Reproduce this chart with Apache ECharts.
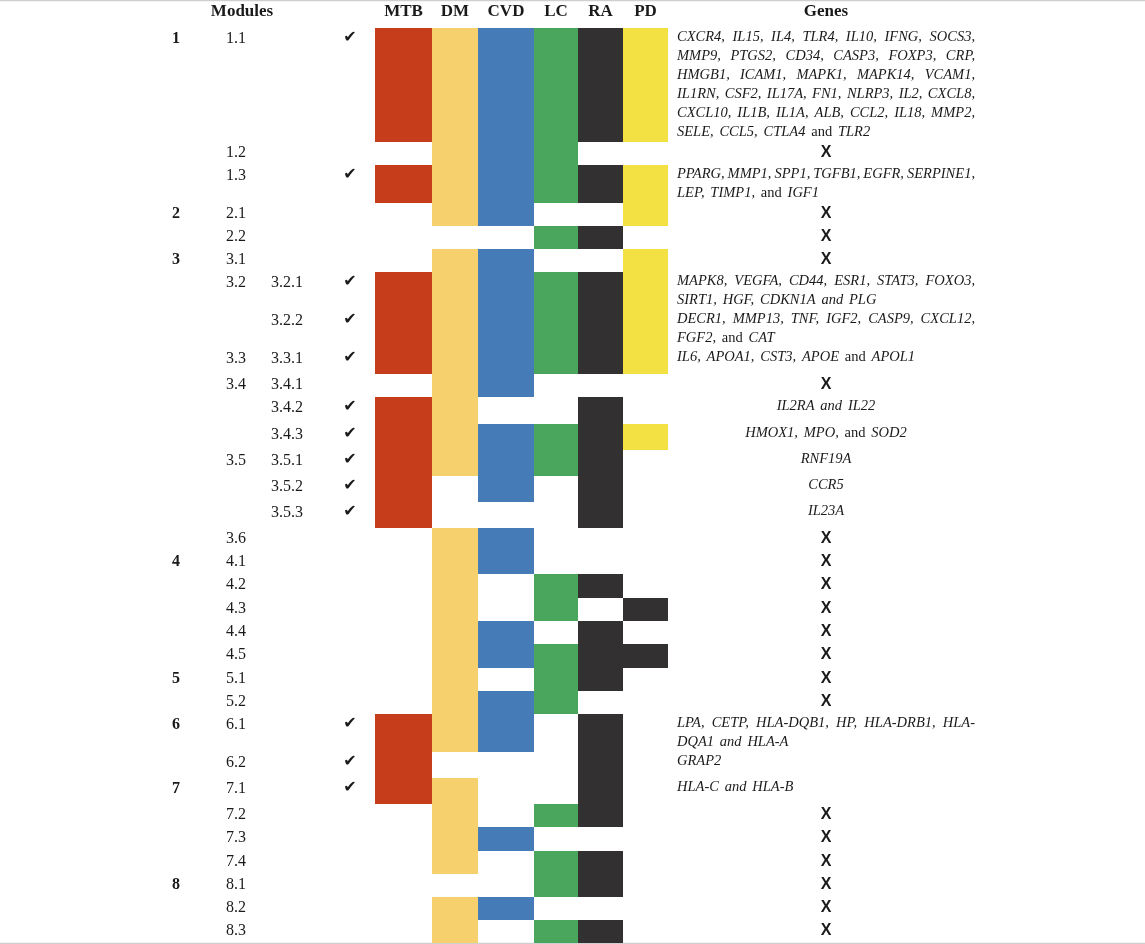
<!DOCTYPE html>
<html>
<head>
<meta charset="utf-8">
<title>Modules</title>
<script src="https://cdn.jsdelivr.net/npm/echarts@6/dist/echarts.min.js"></script>
<style>
  html, body { margin: 0; padding: 0; background: #fff; }
  #main { width: 1145px; height: 944px; }
</style>
</head>
<body>
<div id="main"></div>
<script>
// 行：模块编号
const rowIds = ['1.1', '1.2', '1.3', '2.1', '2.2', '3.1', '3.2.1', '3.2.2', '3.3.1', '3.4.1', '3.4.2', '3.4.3',
  '3.5.1', '3.5.2', '3.5.3', '3.6', '4.1', '4.2', '4.3', '4.4', '4.5', '5.1', '5.2', '6.1', '6.2',
  '7.1', '7.2', '7.3', '7.4', '8.1', '8.2', '8.3']
const diseases = ['MTB', 'DM', 'CVD', 'LC', 'RA', 'PD']

// 每个疾病在各行是否出现 (PD 中 2 = 图中以深色块标出)
const mtb = [1, 0, 1, 0, 0, 0, 1, 1, 1, 0, 1, 1, 1, 1, 1, 0, 0, 0, 0, 0, 0, 0, 0, 1, 1, 1, 0, 0, 0, 0, 0, 0]
const dm  = [1, 1, 1, 1, 0, 1, 1, 1, 1, 1, 1, 1, 1, 0, 0, 1, 1, 1, 1, 1, 1, 1, 1, 1, 0, 1, 1, 1, 1, 0, 1, 1]
const cvd = [1, 1, 1, 1, 0, 1, 1, 1, 1, 1, 0, 1, 1, 1, 0, 1, 1, 0, 0, 1, 1, 0, 1, 1, 0, 0, 0, 1, 0, 0, 1, 0]
const lc  = [1, 1, 1, 0, 1, 0, 1, 1, 1, 0, 0, 1, 1, 0, 0, 0, 0, 1, 1, 0, 1, 1, 1, 0, 0, 0, 1, 0, 1, 1, 0, 1]
const ra  = [1, 0, 1, 0, 1, 0, 1, 1, 1, 0, 1, 1, 1, 1, 1, 0, 0, 1, 0, 1, 1, 1, 0, 1, 1, 1, 1, 0, 1, 1, 0, 1]
const pd  = [1, 0, 1, 1, 0, 1, 1, 1, 1, 0, 0, 1, 0, 0, 0, 0, 0, 0, 2, 0, 2, 0, 0, 0, 0, 0, 0, 0, 0, 0, 0, 0]

// 基因 ('' = X)，{r|...} 为正体
const genes = [
  'CXCR4, IL15, IL4, TLR4, IL10, IFNG, SOCS3,\nMMP9, PTGS2, CD34, CASP3, FOXP3, CRP,\nHMGB1, ICAM1, MAPK1, MAPK14, VCAM1,\nIL1RN, CSF2, IL17A, FN1, NLRP3, IL2, CXCL8,\nCXCL10, IL1B, IL1A, ALB, CCL2, IL18, MMP2,\nSELE, CCL5, CTLA4 {r|and} TLR2',
  '',
  'PPARG, MMP1, SPP1, TGFB1, EGFR, SERPINE1,\nLEP, TIMP1, {r|and} IGF1',
  '', '', '',
  'MAPK8, VEGFA, CD44, ESR1, STAT3, FOXO3,\nSIRT1, HGF, CDKN1A and PLG',
  'DECR1, MMP13, TNF, IGF2, CASP9, CXCL12,\nFGF2, {r|and} CAT',
  'IL6, APOA1, CST3, APOE {r|and} APOL1',
  '',
  'IL2RA and IL22',
  'HMOX1, MPO, {r|and} SOD2',
  'RNF19A',
  'CCR5',
  'IL23A',
  '', '', '', '', '', '', '', '',
  'LPA, CETP, HLA-DQB1, HP, HLA-DRB1, HLA-\nDQA1 and HLA-A',
  'GRAP2',
  'HLA-C and HLA-B',
  '', '', '', '', '', ''
]

// 布局
const colWidths = [57, 46, 56, 44, 45, 45]
const rowHeights = [114, 23, 38, 23, 23, 23, 38, 38, 26, 23, 27, 26, 26, 26, 26, 23, 23, 24, 23, 23, 24, 23, 23,
  38, 26, 26, 23, 24, 23, 23, 23, 23]
const centeredGenes = ['3.4.2', '3.4.3', '3.5.1', '3.5.2', '3.5.3']
const colors = ['#C63D1B', '#F5D06D', '#457BB6', '#4AA55D', '#323031', '#F3E042']
const darkCell = '#323031'
const ink = '#1a1a1a'

const colEdges = [0]
colWidths.forEach(w => colEdges.push(colEdges[colEdges.length - 1] + w))
const rowEdges = [0]
rowHeights.forEach(h => rowEdges.push(rowEdges[rowEdges.length - 1] + h))

// x 方向文字位置 (相对彩色列左边)
const TX = { mod: -199, sub: -149, leaf: -104, check: -25, modules: -133, genesL: 302, genesR: 600 }
const GENE_IT = 'italic 14.5px "Liberation Serif"'
const GENE_RO = '14.5px "Liberation Serif"'
const LABEL = '16px "Liberation Serif"'
const LABEL_B = 'bold 16px "Liberation Serif"'
const HEAD = 'bold 17px "Liberation Serif"'

const flags = [mtb, dm, cvd, lc, ra, pd]
const cells = []
flags.forEach((arr, c) => arr.forEach((f, r) => { if (f) cells.push([c, r, f]) }))

// 模块标签
const seen = {}
const labels = rowIds.map(id => {
  const p = id.split('.')
  const mod = p[0]
  const sub = p[0] + '.' + p[1]
  const l = { mod: '', sub: '', leaf: p.length > 2 ? id : '' }
  if (!seen[mod]) { seen[mod] = 1; l.mod = mod }
  if (!seen[sub]) { seen[sub] = 1; l.sub = sub }
  return l
})

const mctx = document.createElement('canvas').getContext('2d')
function textW(s, font) {
  mctx.font = font
  return mctx.measureText(s).width
}

function txt(x, y, text, font, align) {
  return {
    type: 'text',
    style: { x, y, text, font, fill: ink, align: align || 'left', verticalAlign: 'middle' }
  }
}

// 两端对齐的一行基因
function geneLine(line, x0, x1, y, justify, center) {
  const toks = line.split(' ').map(t => {
    const m = t.match(/^\{r\|(.*)\}$/)
    return m ? { t: m[1], font: GENE_RO } : { t, font: GENE_IT }
  })
  const ws = toks.map(k => textW(k.t, k.font))
  const total = ws.reduce((a, b) => a + b, 0)
  let gap = textW(' ', GENE_IT) * 1.6
  if (justify && toks.length > 1) gap = (x1 - x0 - total) / (toks.length - 1)
  let x = center ? (x0 + x1) / 2 - (total + gap * (toks.length - 1)) / 2 : x0
  return toks.map((k, i) => {
    const el = txt(x, y, k.t, k.font)
    x += ws[i] + gap
    return el
  })
}

const chart = echarts.init(document.getElementById('main'))
chart.setOption({
  animation: false,
  backgroundColor: '#fff',
  grid: { left: 375, top: 28, width: colEdges[colEdges.length - 1], height: rowEdges[rowEdges.length - 1] },
  xAxis: { type: 'value', min: 0, max: colEdges[colEdges.length - 1], show: false },
  yAxis: { type: 'value', min: 0, max: rowEdges[rowEdges.length - 1], inverse: true, show: false },
  graphic: [
    { type: 'line', shape: { x1: 0, y1: 0.5, x2: 1145, y2: 0.5 }, style: { stroke: '#cfcfcf', lineWidth: 1.5 } },
    { type: 'line', shape: { x1: 0, y1: 943.5, x2: 1145, y2: 943.5 }, style: { stroke: '#cfcfcf', lineWidth: 1.5 } }
  ],
  series: [{
    type: 'custom',
    silent: true,
    data: cells,
    renderItem(params, api) {
      const c = api.value(0), r = api.value(1), f = api.value(2)
      const p0 = api.coord([colEdges[c], rowEdges[r]])
      const p1 = api.coord([colEdges[c + 1], rowEdges[r + 1]])
      return {
        type: 'rect',
        shape: { x: p0[0], y: p0[1], width: p1[0] - p0[0], height: p1[1] - p0[1] },
        style: { fill: f === 2 ? darkCell : colors[c] }
      }
    }
  }, {
    // 表头
    type: 'custom',
    silent: true,
    data: [[0]],
    renderItem(params, api) {
      const y = api.coord([0, -16])[1]
      const els = [txt(api.coord([TX.modules, 0])[0], y, 'Modules', HEAD, 'center')]
      diseases.forEach((d, c) => {
        els.push(txt(api.coord([(colEdges[c] + colEdges[c + 1]) / 2, 0])[0], y, d, HEAD, 'center'))
      })
      els.push(txt(api.coord([(TX.genesL + TX.genesR) / 2, 0])[0], y, 'Genes', HEAD, 'center'))
      return { type: 'group', children: els }
    }
  }, {
    // 行文字
    type: 'custom',
    silent: true,
    data: rowIds.map((id, i) => [i]),
    renderItem(params, api) {
      const r = api.value(0)
      const top = rowEdges[r]
      const yl = api.coord([0, top + 10.5])[1]
      const X = v => api.coord([v, 0])[0]
      const l = labels[r]
      const els = []
      if (l.mod) els.push(txt(X(TX.mod), yl, l.mod, LABEL_B, 'center'))
      if (l.sub) els.push(txt(X(TX.sub), yl, l.sub, LABEL))
      if (l.leaf) els.push(txt(X(TX.leaf), yl, l.leaf, LABEL))
      if (mtb[r]) els.push(txt(X(TX.check), api.coord([0, top + 9.5])[1], '✔', '16px "DejaVu Sans"', 'center'))
      const g = genes[r]
      if (!g) {
        els.push(txt(X((TX.genesL + TX.genesR) / 2), api.coord([0, top + 11])[1], 'X', 'bold 16px "Liberation Sans"', 'center'))
      } else {
        const lines = g.split('\n')
        const center = centeredGenes.indexOf(rowIds[r]) >= 0
        lines.forEach((line, k) => {
          const y = api.coord([0, top + 9.5 + k * 19])[1]
          geneLine(line, X(TX.genesL), X(TX.genesR), y, k < lines.length - 1, center).forEach(e => els.push(e))
        })
      }
      return { type: 'group', children: els }
    }
  }]
})
</script>
</body>
</html>
